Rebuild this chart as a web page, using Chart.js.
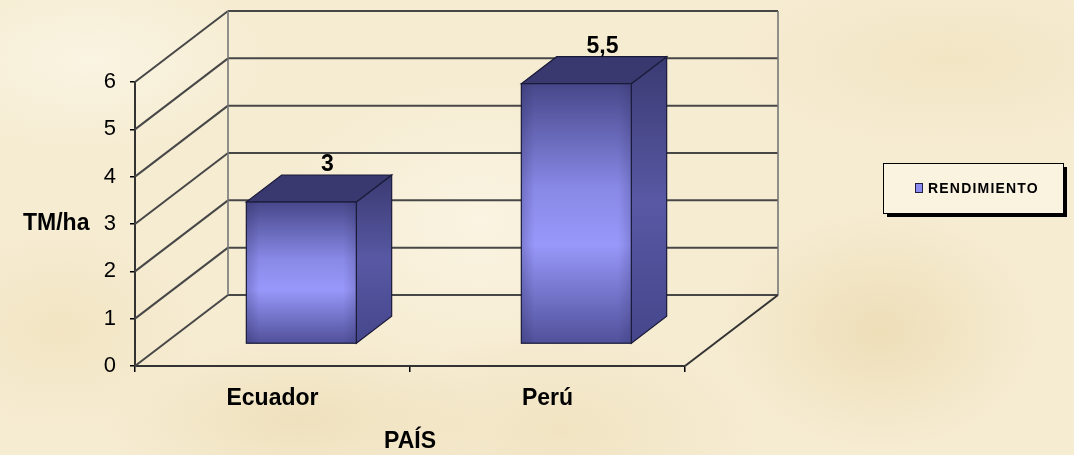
<!DOCTYPE html>
<html>
<head>
<meta charset="utf-8">
<script src="https://cdn.jsdelivr.net/npm/chart.js@4"></script>
<style>
  html, body { margin: 0; padding: 0; }
  body {
    width: 1074px; height: 455px; overflow: hidden;
    background-color: #f6ecd2;
    background-image:
      radial-gradient(ellipse 180px 90px at 90px 60px, rgba(250,245,228,0.9), rgba(250,245,228,0)),
      radial-gradient(ellipse 200px 80px at 300px 420px, rgba(236,220,180,0.7), rgba(236,220,180,0)),
      radial-gradient(ellipse 160px 120px at 880px 330px, rgba(236,219,178,0.8), rgba(236,219,178,0)),
      radial-gradient(ellipse 220px 90px at 950px 60px, rgba(240,226,190,0.7), rgba(240,226,190,0)),
      radial-gradient(ellipse 140px 100px at 60px 330px, rgba(240,225,188,0.7), rgba(240,225,188,0)),
      radial-gradient(ellipse 200px 100px at 560px 430px, rgba(238,222,184,0.6), rgba(238,222,184,0)),
      radial-gradient(ellipse 200px 140px at 480px 220px, rgba(252,247,232,0.7), rgba(252,247,232,0));
  }
  #wrap { position: relative; width: 1074px; height: 455px; }
  canvas { display: block; }
</style>
</head>
<body>
<div id="wrap"><canvas id="myChart" width="1074" height="455"></canvas></div>
<script>
const categories = ['Ecuador', 'Perú'];
const rendimiento = [3, 5.5];
const valueLabels = ['3', '5,5'];
const seriesName = 'RENDIMIENTO';
const yTitle = 'TM/ha';
const xTitle = 'PAÍS';

// depth of the 3d box (pixels) and where the bars sit inside it
const depthX = 93, depthY = -71;
const barFront = 0.31, barBack = 0.69;
const FONT = "'Liberation Sans', Arial, sans-serif";

function line(ctx, x1, y1, x2, y2) {
  ctx.beginPath();
  ctx.moveTo(x1, y1);
  ctx.lineTo(x2, y2);
  ctx.stroke();
}

const threeD = {
  id: 'threeD',
  beforeDatasetsDraw(chart) {
    const ctx = chart.ctx, a = chart.chartArea, y = chart.scales.y;
    ctx.save();
    ctx.strokeStyle = '#474747';
    ctx.lineWidth = 2;
    y.ticks.forEach(t => {
      const py = y.getPixelForValue(t.value);
      line(ctx, a.left, py, a.left + depthX, py + depthY);
      line(ctx, a.left + depthX, py + depthY, a.right + depthX, py + depthY);
    });
    ctx.strokeStyle = '#777';
    ctx.lineWidth = 1.6;
    line(ctx, a.left + depthX, a.top + depthY, a.left + depthX, a.bottom + depthY);
    line(ctx, a.right + depthX, a.top + depthY, a.right + depthX, a.bottom + depthY);
    ctx.strokeStyle = '#333';
    ctx.lineWidth = 2;
    line(ctx, a.right, a.bottom, a.right + depthX, a.bottom + depthY);
    ctx.restore();
  },
  afterDatasetsDraw(chart) {
    const ctx = chart.ctx, a = chart.chartArea;
    const meta = chart.getDatasetMeta(0);
    const bdx = (barBack - barFront) * depthX, bdy = (barBack - barFront) * depthY;
    ctx.save();
    meta.data.forEach((el, i) => {
      const w = el.width;
      const fx = el.x - w / 2 + barFront * depthX;
      const fy = el.y + barFront * depthY;
      const fb = el.base + barFront * depthY;
      ctx.strokeStyle = '#1a1a38';
      ctx.lineWidth = 1.2;

      // side
      let g = ctx.createLinearGradient(0, fy + bdy, 0, fb);
      g.addColorStop(0, '#3a3a72');
      g.addColorStop(0.5, '#5858a4');
      g.addColorStop(1, '#46468c');
      ctx.fillStyle = g;
      ctx.beginPath();
      ctx.moveTo(fx + w, fy);
      ctx.lineTo(fx + w + bdx, fy + bdy);
      ctx.lineTo(fx + w + bdx, fb + bdy);
      ctx.lineTo(fx + w, fb);
      ctx.closePath();
      ctx.fill(); ctx.stroke();

      // top
      ctx.fillStyle = '#393970';
      ctx.beginPath();
      ctx.moveTo(fx, fy);
      ctx.lineTo(fx + bdx, fy + bdy);
      ctx.lineTo(fx + w + bdx, fy + bdy);
      ctx.lineTo(fx + w, fy);
      ctx.closePath();
      ctx.fill(); ctx.stroke();

      // front
      g = ctx.createLinearGradient(0, fy, 0, fb);
      g.addColorStop(0, '#47478a');
      g.addColorStop(0.4, '#8888e6');
      g.addColorStop(0.62, '#9898fb');
      g.addColorStop(1, '#50509a');
      ctx.fillStyle = g;
      ctx.fillRect(fx, fy, w, fb - fy);
      g = ctx.createLinearGradient(fx, 0, fx + w, 0);
      g.addColorStop(0, 'rgba(40,40,90,0.25)');
      g.addColorStop(0.12, 'rgba(40,40,90,0)');
      g.addColorStop(0.88, 'rgba(40,40,90,0)');
      g.addColorStop(1, 'rgba(40,40,90,0.2)');
      ctx.fillStyle = g;
      ctx.fillRect(fx, fy, w, fb - fy);
      ctx.strokeRect(fx, fy, w, fb - fy);

      // value label
      ctx.fillStyle = '#000';
      ctx.font = 'bold 23px ' + FONT;
      ctx.textAlign = 'center';
      ctx.textBaseline = 'alphabetic';
      ctx.fillText(valueLabels[i], el.x + 55, el.y - 53);
    });

    // y axis title, horizontal
    ctx.fillStyle = '#000';
    ctx.font = 'bold 23px ' + FONT;
    ctx.textAlign = 'left';
    ctx.textBaseline = 'middle';
    ctx.fillText(yTitle, 23, (a.top + a.bottom) / 2);

    // legend box with shadow
    const lx = 883, ly = 163, lw = 180, lh = 50;
    ctx.fillStyle = '#000';
    ctx.fillRect(lx + 4, ly + 4, lw, lh);
    ctx.fillStyle = '#faf3df';
    ctx.fillRect(lx, ly, lw, lh);
    ctx.strokeStyle = '#000';
    ctx.lineWidth = 1;
    ctx.strokeRect(lx + 0.5, ly + 0.5, lw, lh);
    ctx.fillStyle = '#8c8cf0';
    ctx.fillRect(lx + 32, ly + 20, 8, 10);
    ctx.strokeStyle = '#1e1e40';
    ctx.strokeRect(lx + 32.5, ly + 20.5, 7, 9);
    ctx.fillStyle = '#000';
    ctx.font = 'bold 14px ' + FONT;
    ctx.letterSpacing = '1.2px';
    ctx.textAlign = 'left';
    ctx.textBaseline = 'middle';
    ctx.fillText(chart.data.datasets[0].label, lx + 45, ly + 26);
    ctx.restore();
  }
};

const ctx1 = document.getElementById('myChart');
new Chart(ctx1, {
  type: 'bar',
  data: {
    labels: categories,
    datasets: [{
      label: seriesName,
      data: rendimiento,
      backgroundColor: 'rgba(0,0,0,0)',
      borderWidth: 0,
      barPercentage: 0.4,
      categoryPercentage: 1
    }]
  },
  options: {
    responsive: false,
    animation: false,
    devicePixelRatio: 1,
    layout: { padding: { top: 82, right: 389, bottom: 0, left: 0 } },
    scales: {
      x: {
        grid: { display: true, drawOnChartArea: false, offset: true, tickLength: 6, color: '#000', lineWidth: 1.5 },
        border: { display: true, color: '#333', width: 2 },
        ticks: { color: '#000', padding: 13, font: { size: 23, weight: 'bold', family: FONT } },
        title: { display: true, text: xTitle, color: '#000', padding: 0, font: { size: 23, weight: 'bold', family: FONT } },
        afterFit(scale) { scale.height = 89; }
      },
      y: {
        min: 0,
        max: 6,
        ticks: { stepSize: 1, color: '#000', padding: 14, font: { size: 22, family: FONT } },
        grid: { display: true, drawOnChartArea: false, tickLength: 5, color: '#000', lineWidth: 1.5 },
        border: { display: true, color: '#333', width: 2 },
        afterFit(scale) { scale.width = 135; }
      }
    },
    plugins: {
      legend: { display: false },
      tooltip: { enabled: false }
    }
  },
  plugins: [threeD]
});
</script>
</body>
</html>
